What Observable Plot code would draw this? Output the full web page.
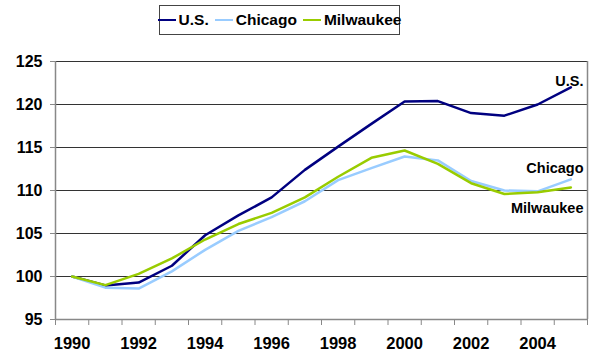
<!DOCTYPE html>
<html>
<head>
<meta charset="utf-8">
<script src="https://cdn.jsdelivr.net/npm/d3@7"></script>
<script src="https://cdn.jsdelivr.net/npm/@observablehq/plot@0.6"></script>
<style>
  html, body { margin: 0; padding: 0; background: #fff; }
  #wrap { position: relative; width: 600px; height: 364px; font-family: "Liberation Sans", Arial, sans-serif; }
  #legend { position: absolute; left: 159px; top: 5px; width: 239px; height: 28px; border: 1.5px solid #444;
    display: flex; align-items: center; justify-content: center; gap: 6px; font-weight: bold; font-size: 15.5px; background: #fff; }
  .item { display: flex; align-items: center; gap: 3px; }
  .sw { display: inline-block; width: 18px; height: 2.5px; }
</style>
</head>
<body>
<div id="wrap"><div id="legend"></div></div>
<script>
const years = [1990,1991,1992,1993,1994,1995,1996,1997,1998,1999,2000,2001,2002,2003,2004,2005];
const us =        [100, 98.95, 99.3, 101.25, 104.8, 107.1, 109.2, 112.4, 115.1, 117.75, 120.35, 120.4, 119.0, 118.7, 120.0, 122.0];
const chicago =   [100, 98.7, 98.6, 100.6, 103.1, 105.3, 106.9, 108.75, 111.2, 112.6, 113.95, 113.5, 111.1, 110.0, 109.9, 111.3];
const milwaukee = [100, 99.0, 100.3, 102.1, 104.3, 106.1, 107.4, 109.2, 111.6, 113.8, 114.65, 113.1, 110.85, 109.6, 109.8, 110.35];
const seriesNames = ["U.S.", "Chicago", "Milwaukee"];
const seriesColors = ["#000080", "#99CCFF", "#99CC00"];
const yTicks = [95, 100, 105, 110, 115, 120, 125];
const xLabelTicks = [1990, 1992, 1994, 1996, 1998, 2000, 2002, 2004];

const seriesValues = [us, chicago, milwaukee];
const rows = [];
seriesNames.forEach((name, i) => years.forEach((yr, j) => rows.push({series: name, year: yr, value: seriesValues[i][j]})));
const lastRows = seriesNames.map((name, i) => ({series: name, year: years[years.length - 1], value: seriesValues[i][years.length - 1]}));
const labelDy = {"U.S.": -6, "Chicago": -11, "Milwaukee": 21};
const boundaries = d3.range(years[0] - 0.5, years[years.length - 1] + 1, 1);
const xMin = boundaries[0], xMax = boundaries[boundaries.length - 1];

const chart = Plot.plot({
  width: 600, height: 364,
  marginLeft: 55, marginRight: 13, marginTop: 61, marginBottom: 45,
  style: {fontFamily: "'Liberation Sans', Arial, sans-serif", fontWeight: "bold", fontSize: "16px", color: "#000", background: "#fff"},
  x: {type: "linear", domain: [xMin, xMax]},
  y: {domain: [95, 125]},
  color: {domain: seriesNames, range: seriesColors},
  marks: [
    Plot.gridY(yTicks.filter(t => t > 95), {stroke: "#333", strokeOpacity: 1, strokeWidth: 1.2}),
    Plot.ruleX([xMin], {stroke: "#888", strokeWidth: 1.5}),
    Plot.ruleX([xMax], {stroke: "#888", strokeWidth: 1.5}),
    Plot.ruleY([95], {stroke: "#888", strokeWidth: 1.5}),
    Plot.axisY({ticks: yTicks, tickSize: 5, tickPadding: 8, stroke: "#888", fontSize: 16, fontWeight: "bold", label: null}),
    Plot.axisX({ticks: boundaries, tickSize: 6, tickFormat: () => "", stroke: "#888", label: null}),
    Plot.axisX({ticks: xLabelTicks, tickSize: 0, tickPadding: 18, tickFormat: d => String(d), fontSize: 16.5, fontWeight: "bold", label: null}),
    Plot.line(rows, {x: "year", y: "value", z: "series", stroke: "series", strokeWidth: 2.5, curve: "linear"}),
    Plot.text(lastRows, {x: xMax, y: "value", text: "series", textAnchor: "end", dx: -4,
      fontSize: 14.5, fontWeight: "bold", fill: "#000"})
  ]
});
document.getElementById("wrap").appendChild(chart);
// per-series vertical offsets for the end labels
const texts = chart.querySelectorAll("g[aria-label='text'] text");
texts.forEach((t, i) => {
  const name = lastRows[i].series;
  const cur = parseFloat(t.getAttribute("dy") || "0");
  t.setAttribute("dy", (cur + labelDy[name]) + "px");
});

const legend = document.getElementById("legend");
seriesNames.forEach((name, i) => {
  const it = document.createElement("span");
  it.className = "item";
  const sw = document.createElement("span");
  sw.className = "sw";
  sw.style.background = seriesColors[i];
  it.appendChild(sw);
  it.appendChild(document.createTextNode(name));
  legend.appendChild(it);
});
</script>
</body>
</html>
